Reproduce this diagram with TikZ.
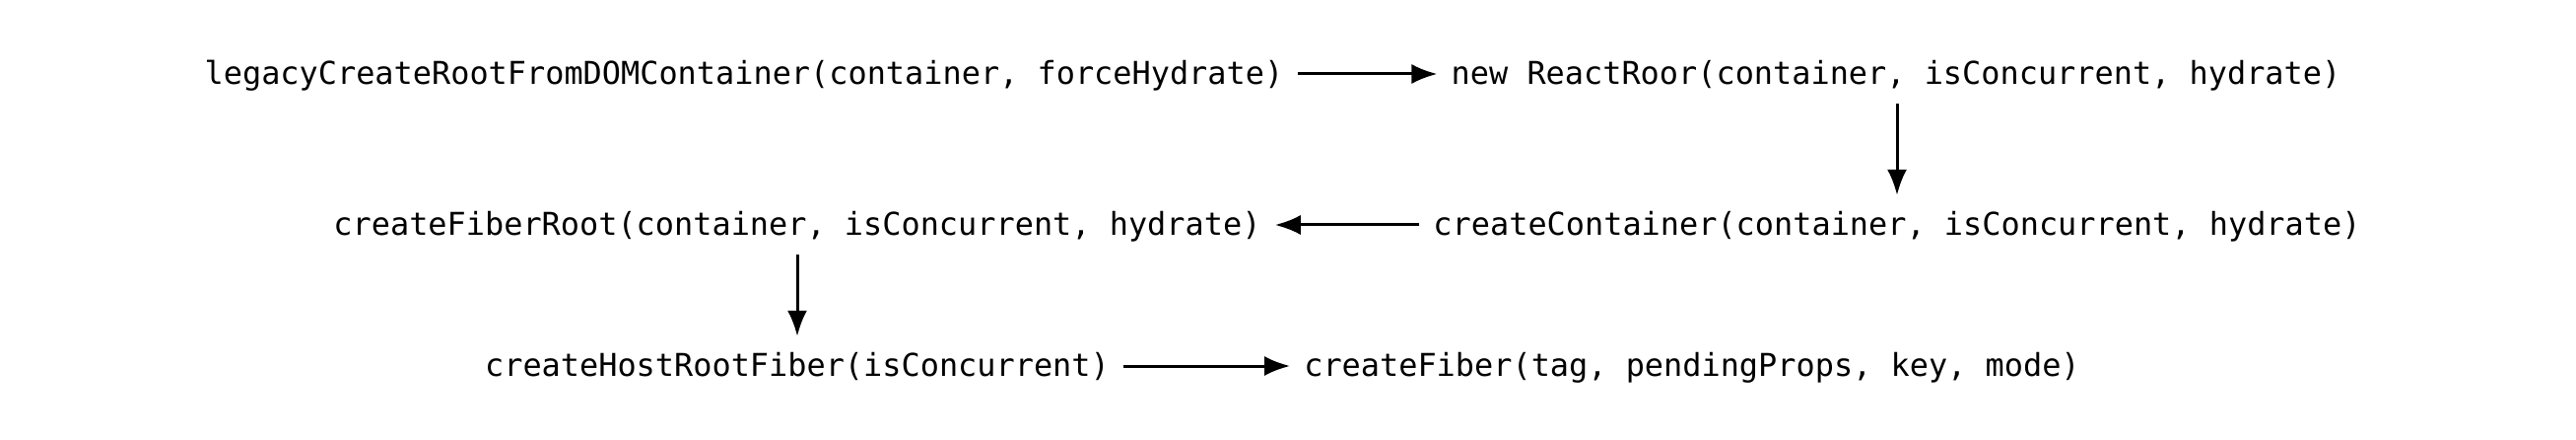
\documentclass[tikz,border=0pt]{standalone}
\usepackage{fontspec}
\setmonofont{DejaVu Sans Mono}
\usetikzlibrary{arrows.meta}
\tikzset{
  fn/.style={font=\ttfamily\fontsize{31.9}{38}\selectfont, text height=25pt, text depth=4pt, inner xsep=14pt, inner ysep=0pt, minimum height=60pt, anchor=center},
  flow/.style={-{Latex[length=26pt,width=20pt]}, line width=3pt}
}
\begin{document}
\begin{tikzpicture}[x=1pt,y=-1pt]
\useasboundingbox[fill=white] (0,0) rectangle (2614,446);
\node[fn] (legacy) at (755,75) {legacyCreateRootFromDOMContainer(container, forceHydrate)};
\node[fn] (reactroot) at (1924,75) {new ReactRoor(container, isConcurrent, hydrate)};
\node[fn] (container) at (1925,228) {createContainer(container, isConcurrent, hydrate)};
\node[fn] (fiberroot) at (809,228) {createFiberRoot(container, isConcurrent, hydrate)};
\node[fn] (hostroot) at (809,371) {createHostRootFiber(isConcurrent)};
\node[fn] (fiber) at (1717,371) {createFiber(tag, pendingProps, key, mode)};
\draw[flow] (legacy) -- (reactroot);
\draw[flow] (reactroot.south -| container.center) -- (container.north);
\draw[flow] (container) -- (fiberroot);
\draw[flow] (fiberroot) -- (hostroot);
\draw[flow] (hostroot) -- (fiber);
\end{tikzpicture}
\end{document}
